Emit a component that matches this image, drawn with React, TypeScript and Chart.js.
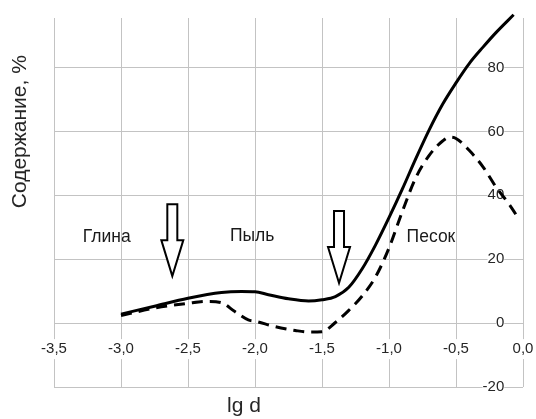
import { useEffect, useRef } from 'react';
import { Chart, registerables } from 'chart.js';

Chart.register(...registerables);

// ---- Data ----
const xTickValues = [-3.5, -3.0, -2.5, -2.0, -1.5, -1.0, -0.5, 0.0];
const yTickValues = [-20, 0, 20, 40, 60, 80];
const xMin = -3.5;
const xMax = 0;
const yMin = -20;
const yMax = 95.5;
const yLabelAnchorX = -0.14;

// solid curve (cumulative)
const solidX = [-3.0, -2.75, -2.5, -2.25, -2.1, -2.0, -1.9, -1.75, -1.6, -1.5, -1.4, -1.3, -1.2, -1.1, -1.0, -0.9, -0.8, -0.7, -0.6, -0.5, -0.4, -0.3, -0.2, -0.07];
const solidY = [2.8, 5.3, 7.8, 9.6, 9.9, 9.8, 8.9, 7.6, 6.9, 7.3, 8.3, 11.2, 17, 24.5, 33, 42, 51.5, 60.5, 68.5, 75.2, 81.3, 86.3, 91, 96.5];

// dashed curve (fraction)
const dashedX = [-3.0, -2.75, -2.5, -2.35, -2.25, -2.15, -2.05, -2.0, -1.85, -1.7, -1.6, -1.5, -1.4, -1.3, -1.2, -1.1, -1.0, -0.9, -0.8, -0.7, -0.6, -0.55, -0.5, -0.4, -0.3, -0.2, -0.1, -0.03];
const dashedY = [2.4, 4.7, 6.2, 6.8, 6.4, 3.6, 1.0, 0.6, -1.1, -2.3, -2.8, -2.7, 0.2, 4.0, 8.5, 14.5, 23.5, 35, 45.5, 52.5, 57, 58.2, 57.8, 54, 49, 42.5, 37, 32.5];

const regionLabels = ['Глина', 'Пыль', 'Песок'];
const regionLabelX = [-3.106, -2.021, -0.687];
const regionLabelY = [25.4, 25.8, 25.4];
const arrowTipX = [-2.617, -1.373];
const arrowTipY = [14.7, 12.55];
const yAxisTitle = 'Содержание, %';
const xAxisTitle = 'lg d';

const FONT = '"Liberation Sans", Arial, sans-serif';

const overlayPlugin = {
  id: 'overlay',
  afterDatasetsDraw(chart: any) {
    const { ctx, scales } = chart;
    const xs = scales.x;
    const ys = scales.y;
    ctx.save();
    ctx.font = `17.5px ${FONT}`;
    ctx.fillStyle = '#1a1a1a';
    ctx.textAlign = 'center';
    ctx.textBaseline = 'alphabetic';
    regionLabels.forEach((t, i) => {
      ctx.fillText(t, xs.getPixelForValue(regionLabelX[i]), ys.getPixelForValue(regionLabelY[i]));
    });
    arrowTipX.forEach((ax, i) => {
      const tx = xs.getPixelForValue(ax);
      const ty = ys.getPixelForValue(arrowTipY[i]);
      const sw = 5, hw = 11, hh = 36, sh = 36;
      ctx.beginPath();
      ctx.moveTo(tx, ty);
      ctx.lineTo(tx - hw, ty - hh);
      ctx.lineTo(tx - sw, ty - hh);
      ctx.lineTo(tx - sw, ty - hh - sh);
      ctx.lineTo(tx + sw, ty - hh - sh);
      ctx.lineTo(tx + sw, ty - hh);
      ctx.lineTo(tx + hw, ty - hh);
      ctx.closePath();
      ctx.fillStyle = '#ffffff';
      ctx.fill();
      ctx.lineWidth = 2;
      ctx.lineJoin = 'miter';
      ctx.strokeStyle = '#000000';
      ctx.stroke();
    });
    ctx.restore();
  },
  afterDraw(chart: any) {
    const { ctx } = chart;
    ctx.save();
    ctx.fillStyle = '#262626';
    ctx.textAlign = 'center';
    ctx.textBaseline = 'middle';
    ctx.font = `21px ${FONT}`;
    ctx.translate(20.5, 131.7);
    ctx.rotate(-Math.PI / 2);
    ctx.fillText(yAxisTitle, 0, 0);
    ctx.restore();
    ctx.save();
    ctx.fillStyle = '#262626';
    ctx.textAlign = 'center';
    ctx.textBaseline = 'alphabetic';
    ctx.font = `21px ${FONT}`;
    ctx.fillText(xAxisTitle, 244, 411.5);
    ctx.restore();
  },
};

export default function App() {
  const ref = useRef<HTMLCanvasElement>(null);
  useEffect(() => {
    if (!ref.current) return;
    const gridColor = '#c3c3c3';
    const tickFont = { family: FONT, size: 15 };
    const chart = new Chart(ref.current, {
      type: 'line',
      data: {
        datasets: [
          {
            data: solidX.map((x, i) => ({ x, y: solidY[i] })),
            borderColor: '#000',
            borderWidth: 3,
            pointRadius: 0,
            cubicInterpolationMode: 'monotone',
            fill: false,
            clip: false,
          } as any,
          {
            data: dashedX.map((x, i) => ({ x, y: dashedY[i] })),
            borderColor: '#000',
            borderWidth: 3,
            borderDash: [11, 7],
            pointRadius: 0,
            cubicInterpolationMode: 'monotone',
            fill: false,
            clip: false,
          } as any,
        ],
      },
      options: {
        animation: false,
        responsive: false,
        layout: { padding: { left: 54, top: 18, right: 13, bottom: 32 } },
        plugins: { legend: { display: false }, tooltip: { enabled: false } },
        scales: {
          x: {
            type: 'linear',
            min: xMin,
            max: xMax,
            position: { y: 0 } as any,
            afterBuildTicks: (axis: any) => {
              axis.ticks = xTickValues.map((v) => ({ value: v }));
            },
            ticks: {
              autoSkip: false,
              maxRotation: 0,
              padding: 0,
              font: tickFont,
              color: '#262626',
              callback: (v: any) => Number(v).toFixed(1).replace('.', ','),
              showLabelBackdrop: true,
              backdropColor: '#ffffff',
              backdropPadding: 1,
            } as any,
            grid: { color: gridColor, lineWidth: 1, drawTicks: true, tickLength: 17, tickColor: 'rgba(0,0,0,0)' },
            border: { display: false },
          },
          y: {
            type: 'linear',
            min: yMin,
            max: yMax,
            position: { x: yLabelAnchorX } as any,
            afterBuildTicks: (axis: any) => {
              axis.ticks = yTickValues.map((v) => ({ value: v }));
            },
            ticks: {
              padding: 0,
              font: tickFont,
              color: '#262626',
              showLabelBackdrop: true,
              backdropColor: '#ffffff',
              backdropPadding: 0,
            } as any,
            grid: { color: gridColor, lineWidth: 1, drawTicks: false },
            border: { display: false },
          },
        },
      },
      plugins: [overlayPlugin],
    });
    return () => chart.destroy();
  }, []);
  return (
    <div style={{ position: 'fixed', left: 0, top: 0, width: 536, height: 419, background: '#fff' }}>
      <canvas ref={ref} width={536} height={419} style={{ display: 'block' }} />
    </div>
  );
}
